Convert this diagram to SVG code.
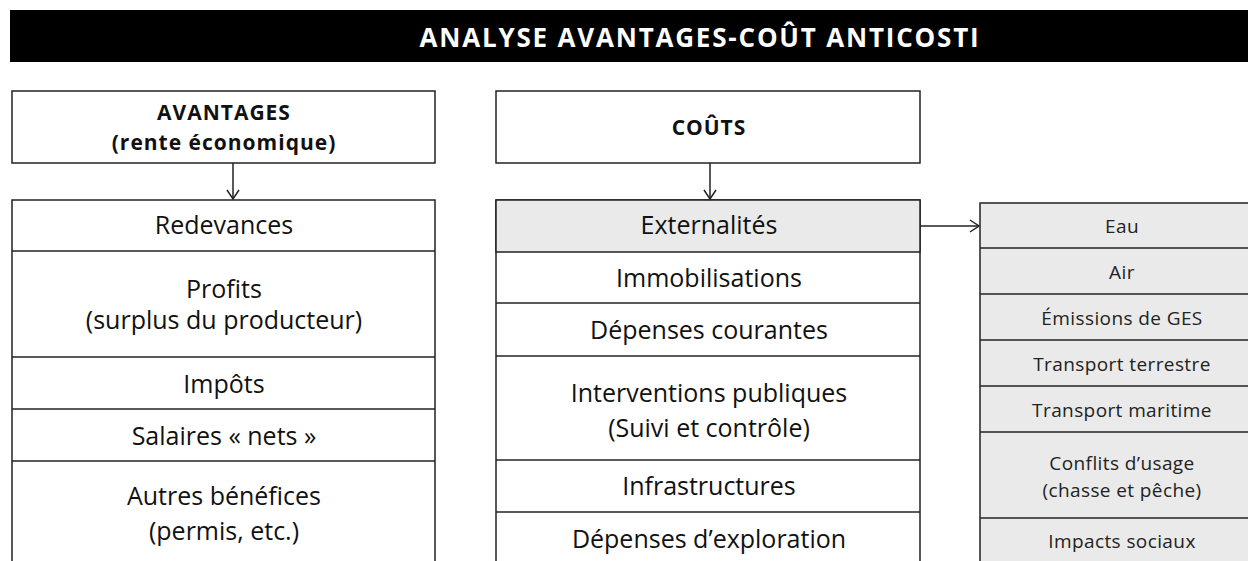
<svg xmlns="http://www.w3.org/2000/svg" width="1248" height="561" viewBox="0 0 1248 561">
<style>
.box{fill:#fff;stroke:#222;stroke-width:1.5}
.gbox{fill:#e9eae9;stroke:#222;stroke-width:1.5}
.sep{stroke:#222;stroke-width:1.5}
.t{font-family:"Open Sans","Noto Sans",sans-serif;font-size:25px;fill:#111;text-anchor:middle}
.h{font-family:"Open Sans","Noto Sans",sans-serif;font-size:21px;letter-spacing:1px;font-weight:bold;fill:#111;text-anchor:middle}
.s{font-family:"Open Sans","Noto Sans",sans-serif;font-size:19px;letter-spacing:0.4px;fill:#222;text-anchor:middle}
.title{font-family:"Open Sans","Noto Sans",sans-serif;font-size:26px;letter-spacing:1.8px;font-weight:bold;fill:#fff;text-anchor:middle}
.conn{stroke:#222;stroke-width:1.5;fill:none}
</style>
<defs>
<marker id="arr" markerWidth="14" markerHeight="14" refX="10" refY="7" orient="auto" markerUnits="userSpaceOnUse">
<path d="M1,1 L10,7 L1,13" fill="none" stroke="#222" stroke-width="1.5"/>
</marker>
</defs>
<rect width="1248" height="561" fill="#fff"/>
<g id="title">
<rect x="10" y="10" width="1238" height="52" fill="#000"/>
<text class="title" x="700" y="47">ANALYSE AVANTAGES-COÛT ANTICOSTI</text>
</g>
<g id="avantages">
<rect class="box" x="12" y="91" width="423" height="72"/>
<text class="h" x="224" y="120">AVANTAGES</text>
<text class="h" x="224" y="150">(rente économique)</text>
</g>
<g id="couts">
<rect class="box" x="496" y="91" width="424" height="72"/>
<text class="h" x="709" y="135">COÛTS</text>
</g>
<g id="avantages-list">
<rect class="box" x="12" y="200" width="423" height="380"/>
<line class="sep" x1="12" y1="251" x2="435" y2="251"/>
<line class="sep" x1="12" y1="357" x2="435" y2="357"/>
<line class="sep" x1="12" y1="409" x2="435" y2="409"/>
<line class="sep" x1="12" y1="461" x2="435" y2="461"/>
<text class="t" x="224" y="234">Redevances</text>
<text class="t" x="224" y="298">Profits</text>
<text class="t" x="224" y="329">(surplus du producteur)</text>
<text class="t" x="224" y="393">Impôts</text>
<text class="t" x="224" y="445">Salaires « nets »</text>
<text class="t" x="224" y="505">Autres bénéfices</text>
<text class="t" x="224" y="540">(permis, etc.)</text>
</g>
<g id="couts-list">
<rect class="box" x="496" y="200" width="424" height="380"/>
<rect class="gbox" x="496" y="200" width="424" height="52"/>
<line class="sep" x1="496" y1="303" x2="920" y2="303"/>
<line class="sep" x1="496" y1="356" x2="920" y2="356"/>
<line class="sep" x1="496" y1="460" x2="920" y2="460"/>
<line class="sep" x1="496" y1="512" x2="920" y2="512"/>
<text class="t" x="709" y="234">Externalités</text>
<text class="t" x="709" y="287">Immobilisations</text>
<text class="t" x="709" y="339">Dépenses courantes</text>
<text class="t" x="709" y="402">Interventions publiques</text>
<text class="t" x="709" y="437">(Suivi et contrôle)</text>
<text class="t" x="709" y="495">Infrastructures</text>
<text class="t" x="709" y="548">Dépenses d’exploration</text>
</g>
<g id="externalites-list">
<rect class="gbox" x="980" y="203" width="290" height="380"/>
<line class="sep" x1="980" y1="248" x2="1270" y2="248"/>
<line class="sep" x1="980" y1="294" x2="1270" y2="294"/>
<line class="sep" x1="980" y1="340" x2="1270" y2="340"/>
<line class="sep" x1="980" y1="386" x2="1270" y2="386"/>
<line class="sep" x1="980" y1="432" x2="1270" y2="432"/>
<line class="sep" x1="980" y1="518" x2="1270" y2="518"/>
<text class="s" x="1122" y="233">Eau</text>
<text class="s" x="1122" y="279">Air</text>
<text class="s" x="1122" y="325">Émissions de GES</text>
<text class="s" x="1122" y="371">Transport terrestre</text>
<text class="s" x="1122" y="417">Transport maritime</text>
<text class="s" x="1122" y="470">Conflits d’usage</text>
<text class="s" x="1122" y="497">(chasse et pêche)</text>
<text class="s" x="1122" y="548">Impacts sociaux</text>
</g>
<g id="connectors">
<line class="conn" x1="233" y1="163" x2="233" y2="199" marker-end="url(#arr)"/>
<line class="conn" x1="710" y1="163" x2="710" y2="199" marker-end="url(#arr)"/>
<line class="conn" x1="920" y1="226" x2="979" y2="226" marker-end="url(#arr)"/>
</g>
</svg>
